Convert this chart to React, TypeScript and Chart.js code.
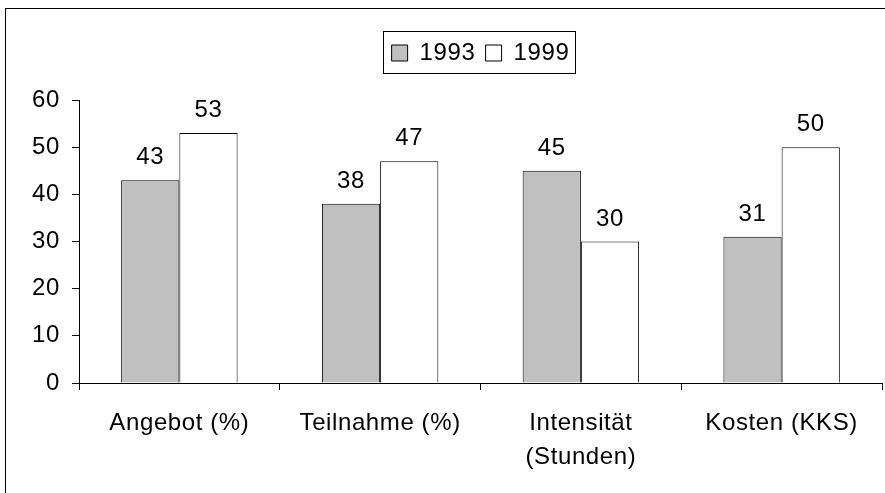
import React, { useEffect, useRef } from 'react';
import { Chart, registerables } from 'chart.js';

Chart.register(...registerables);

const categories: (string | string[])[] = ['Angebot (%)', 'Teilnahme (%)', ['Intensität', '(Stunden)'], 'Kosten (KKS)'];
const seriesNames = ['1993', '1999'];
const values1993 = [43, 38, 45, 31];
const values1999 = [53, 47, 30, 50];
const yMin = 0;
const yMax = 60;
const yStep = 10;

const FONT = '"Liberation Sans", Arial, sans-serif';
const FS = 24;
const LETTER_SPACING = '0.6px';

const spacing = {
  id: 'spacing',
  beforeLayout(chart: any) {
    (chart.ctx as any).letterSpacing = LETTER_SPACING;
  },
  beforeDraw(chart: any) {
    (chart.ctx as any).letterSpacing = LETTER_SPACING;
  },
};

const legendSpacer = {
  id: 'legendSpacer',
  beforeUpdate(chart: any) {
    const lg = chart.legend;
    if (lg && !lg.__patched) {
      const orig = lg.fit;
      lg.fit = function () {
        orig.call(this);
        this.height += 25;
      };
      lg.__patched = true;
    }
  },
};

const legendBox = {
  id: 'legendBox',
  afterDraw(chart: any) {
    const lg = chart.legend;
    if (!lg || !lg.legendHitBoxes || !lg.legendHitBoxes.length) return;
    const hb = lg.legendHitBoxes;
    const first = hb[0];
    const last = hb[hb.length - 1];
    const left = Math.round(first.left - 9) + 0.5;
    const right = Math.round(last.left + last.width + 6) + 0.5;
    const top = Math.round(first.top - 10) + 0.5;
    const bottom = Math.round(first.top + first.height + 8) + 0.5;
    const ctx = chart.ctx;
    ctx.save();
    ctx.strokeStyle = '#000';
    ctx.lineWidth = 1;
    ctx.strokeRect(left, top, right - left, bottom - top);
    ctx.restore();
  },
};

const frame = {
  id: 'frame',
  afterDraw(chart: any) {
    const ctx = chart.ctx;
    ctx.save();
    ctx.strokeStyle = '#000';
    ctx.lineWidth = 1;
    ctx.strokeRect(5.5, 8.5, 2000, 2000);
    ctx.restore();
  },
};

const dataLabels = {
  id: 'dataLabels',
  afterDatasetsDraw(chart: any) {
    const ctx = chart.ctx;
    ctx.save();
    (ctx as any).letterSpacing = LETTER_SPACING;
    ctx.fillStyle = '#000';
    ctx.font = `${FS}px ${FONT}`;
    ctx.textAlign = 'center';
    ctx.textBaseline = 'alphabetic';
    chart.data.datasets.forEach((ds: any, di: number) => {
      const meta = chart.getDatasetMeta(di);
      meta.data.forEach((bar: any, i: number) => {
        ctx.fillText(String(ds.data[i]), bar.x, bar.y - 16);
      });
    });
    ctx.restore();
  },
};

export default function App() {
  const ref = useRef<HTMLCanvasElement>(null);

  useEffect(() => {
    if (!ref.current) return;
    const chart = new Chart(ref.current, {
      type: 'bar',
      data: {
        labels: categories as any,
        datasets: [
          {
            label: seriesNames[0],
            data: values1993,
            backgroundColor: '#C0C0C0',
            borderColor: '#000',
            borderWidth: 1,
            categoryPercentage: 0.58,
            barPercentage: 1,
          },
          {
            label: seriesNames[1],
            data: values1999,
            backgroundColor: '#FFFFFF',
            borderColor: '#000',
            borderWidth: 1,
            categoryPercentage: 0.58,
            barPercentage: 1,
          },
        ],
      },
      options: {
        responsive: false,
        animation: false,
        layout: { padding: { top: 30.8, right: 3, bottom: 0, left: 0 } },
        plugins: {
          legend: {
            display: true,
            position: 'top',
            fullSize: false,
            labels: {
              boxWidth: 16,
              boxHeight: 16,
              padding: 10.2,
              color: '#000',
              font: { family: FONT, size: FS },
            },
          },
          tooltip: { enabled: false },
        },
        scales: {
          x: {
            grid: { display: true, drawOnChartArea: false, drawTicks: true, tickLength: 7, color: '#000', offset: true },
            border: { display: true, color: '#000', width: 1 },
            ticks: {
              color: '#000',
              padding: 16,
              maxRotation: 0,
              autoSkip: false,
              font: { family: FONT, size: FS, lineHeight: 34 / FS },
            },
            afterFit(scale: any) {
              scale.height = 110;
            },
          },
          y: {
            min: yMin,
            max: yMax,
            grid: { display: true, drawOnChartArea: false, drawTicks: true, tickLength: 7, color: '#000' },
            border: { display: true, color: '#000', width: 1 },
            ticks: {
              stepSize: yStep,
              color: '#000',
              padding: 12,
              font: { family: FONT, size: FS },
            },
            afterFit(scale: any) {
              scale.width = 79;
            },
          },
        },
      },
      plugins: [spacing, legendSpacer, legendBox, frame, dataLabels],
    });
    return () => chart.destroy();
  }, []);

  return (
    <div style={{ position: 'absolute', left: 0, top: 0, width: 885, height: 493, background: '#fff' }}>
      <canvas ref={ref} width={885} height={493} style={{ display: 'block' }} />
    </div>
  );
}
